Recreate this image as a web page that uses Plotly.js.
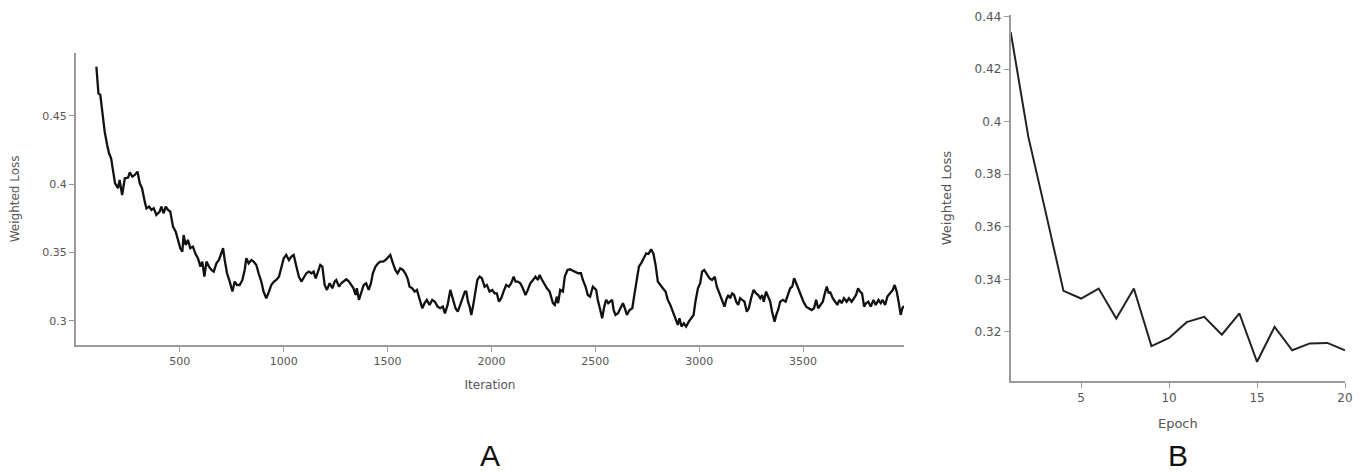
<!DOCTYPE html>
<html>
<head>
<meta charset="utf-8">
<script src="https://cdn.plot.ly/plotly-3.0.1.min.js"></script>
<style>html,body{margin:0;padding:0;background:#fff;}#chart{width:1363px;height:472px;}</style>
</head>
<body>
<div id="chart"></div>
<script>
// Panel A: weighted loss per iteration
const iterations = [98,108,117,127,138,150,159,169,178,188,198,202,210,222,235,251,259,271,283,296,307,318,331,339,352,363,374,387,403,411,422,432,443,454,467,480,491,502,512,518,528,539,550,563,576,587,599,608,618,
628,640,652,663,676,688,700,708,716,727,740,753,764,775,788,801,812,820,831,844,855,868,879,892,903,916,929,940,953,964,977,988,1000,1012,1025,1037,1048,1061,1073,1085,1096,1109,1121,1133,1144,1154,1165,1176,1186,1197,1208,1221,1234,1245,
1253,1266,1277,1288,1301,1314,1325,1336,1346,1352,1362,1373,1385,1397,1409,1420,1429,1442,1454,1465,1478,1490,1502,1513,1526,1537,1548,1561,1574,1585,1596,1606,1619,1630,1641,1654,1667,1678,1689,1702,1715,1728,1741,1753,1766,1776,1789,1802,1814,1827,1838,1850,1863,1872,
1879,1887,1895,1903,1911,1922,1932,1943,1954,1967,1978,1991,2004,2015,2026,2036,2047,2058,2071,2084,2095,2107,2116,2127,2139,2151,2164,2175,2187,2200,2212,2224,2232,2244,2256,2267,2280,2288,2296,2305,2315,2321,2331,2344,2353,2366,2379,2392,2405,2418,2431,2440,2453,2464,2475,2488,
2504,2512,2524,2533,2543,2552,2562,2572,2581,2588,2597,2609,2620,2633,2642,2652,2665,2678,2689,2700,2710,2721,2732,2745,2756,2769,2780,2790,2801,2812,2825,2838,2849,2861,2873,2886,2897,2905,2915,2926,2937,2950,2962,2973,2982,2994,3005,3014,3024,3037,3050,3062,3075,3085,3098,3111,3122,
3130,3140,3149,3159,3168,3178,3188,3197,3207,3218,3229,3239,3250,3262,3274,3284,3294,3303,3311,3322,3332,3342,3351,3363,3371,3380,3390,3403,3416,3427,3438,3448,3457,3467,3480,3491,3502,3515,3528,3541,3553,3563,3573,3582,3595,3605,3614,3624,
3630,3643,3654,3665,3675,3686,3697,3710,3721,3734,3745,3755,3765,3774,3784,3794,3803,3814,3826,3839,3850,3863,3874,3883,3895,3906,3919,3932,3941,3951,3960,3970,3978,3986];

const iterationLoss = [0.4861,0.4666,0.4654,0.4507,0.4385,0.4288,0.4227,0.419,0.4105,0.4007,0.3983,0.3971,0.4032,0.3922,0.4044,0.4049,0.4088,0.4056,0.4068,0.4093,0.4007,0.397,0.3873,0.3824,0.3837,0.3812,0.3824,0.3776,0.38,0.3837,0.3788,0.3837,0.3812,0.38,0.369,0.3654,0.3593,0.3532,0.3507,0.3629,0.3556,0.3593,0.3532,0.3544,0.3488,0.3459,0.3398,0.3434,0.3324,
0.3434,0.3398,0.3373,0.3361,0.3422,0.3446,0.3507,0.3532,0.3446,0.3349,0.3288,0.3215,0.3288,0.3263,0.3263,0.33,0.3373,0.3459,0.3422,0.3446,0.3434,0.341,0.3349,0.3288,0.3215,0.3166,0.3215,0.3263,0.3288,0.33,0.3324,0.3398,0.3459,0.3483,0.3446,0.3471,0.3483,0.3398,0.3324,0.3288,0.3312,0.3349,0.3361,0.3349,0.3361,0.3312,0.3361,0.341,0.3398,0.3263,0.3227,0.3276,0.3239,0.3288,
0.33,0.3251,0.3276,0.3288,0.3305,0.3288,0.3263,0.3239,0.319,0.3239,0.3154,0.3215,0.3263,0.3276,0.3227,0.3276,0.3349,0.3398,0.3422,0.3434,0.3434,0.3446,0.3466,0.3483,0.3422,0.3373,0.3349,0.3385,0.3373,0.3349,0.3312,0.3251,0.3239,0.3215,0.3227,0.3154,0.3093,0.313,0.3154,0.3117,0.3154,0.3141,0.3105,0.3093,0.3105,0.3056,0.3117,0.3227,0.3154,0.3093,0.3068,0.3117,0.3178,0.3215,
0.3215,0.3141,0.3105,0.3044,0.3105,0.3227,0.33,0.3324,0.3312,0.3251,0.3263,0.3215,0.3227,0.3202,0.3202,0.3141,0.3166,0.3215,0.3263,0.3251,0.3276,0.3324,0.3288,0.3288,0.3276,0.3239,0.319,0.3227,0.3276,0.33,0.3324,0.33,0.3337,0.33,0.3263,0.3239,0.3215,0.3178,0.313,0.3117,0.3178,0.313,0.3227,0.3215,0.3324,0.3373,0.3378,0.3368,0.3361,0.3349,0.3349,0.33,0.3251,0.319,0.3178,0.3251,
0.3227,0.3154,0.308,0.302,0.3105,0.3154,0.313,0.3141,0.3154,0.308,0.3044,0.3056,0.3093,0.313,0.3093,0.3044,0.308,0.3093,0.3202,0.3324,0.3398,0.3422,0.3459,0.3495,0.349,0.3524,0.349,0.341,0.3288,0.3263,0.3239,0.3215,0.3154,0.3117,0.3068,0.3007,0.2971,0.302,0.2959,0.2983,0.2959,0.2995,0.302,0.3044,0.3141,0.3239,0.3276,0.3361,0.3373,0.3337,0.3312,0.33,0.3324,0.3251,0.3202,0.3141,0.3105,
0.3154,0.319,0.3166,0.3202,0.319,0.3141,0.3117,0.3166,0.3154,0.3141,0.3068,0.3093,0.3166,0.3227,0.3202,0.319,0.3166,0.319,0.3141,0.3215,0.3178,0.3141,0.3068,0.2995,0.3044,0.308,0.3141,0.3154,0.3141,0.319,0.3239,0.3251,0.3312,0.3276,0.3227,0.3178,0.3141,0.3105,0.3093,0.308,0.3093,0.3154,0.3093,0.3117,0.3141,0.3202,0.3251,0.3202,
0.3215,0.3166,0.3141,0.3117,0.3154,0.313,0.3166,0.3141,0.3166,0.3141,0.3166,0.319,0.3239,0.3215,0.3202,0.3105,0.313,0.3141,0.3105,0.3154,0.3117,0.3154,0.313,0.3154,0.3117,0.3178,0.3202,0.3227,0.3263,0.3215,0.3141,0.3044,0.3093,0.311];

// Panel B: weighted loss per epoch
const epochs = [1,2,3,4,5,6,7,8,9,10,11,12,13,14,15,16,17,18,19,20];
const epochLoss = [0.4341,0.3943,0.3652,0.3356,0.3327,0.3365,0.3251,0.3365,0.3146,0.3177,0.3237,0.3257,0.3189,0.3270,0.3086,0.3219,0.3130,0.3156,0.3158,0.3130];

const iterTicks = [500,1000,1500,2000,2500,3000,3500];
const epochTicks = [5,10,15,20];
const panelLabels = ['A','B'];

const W = 1363, H = 472;
const px = v => v / W, py = v => 1 - v / H;

const traces = [
  {x: iterations, y: iterationLoss, type: 'scatter', mode: 'lines', xaxis: 'x', yaxis: 'y',
   line: {color: '#111', width: 2.3}, showlegend: false, hoverinfo: 'x+y'},
  {x: epochs, y: epochLoss, type: 'scatter', mode: 'lines', xaxis: 'x2', yaxis: 'y2',
   line: {color: '#222', width: 2}, showlegend: false, hoverinfo: 'x+y'}
];

const axisCommon = {showgrid: false, zeroline: false, showline: true, linecolor: '#9a9a9a', linewidth: 2,
  ticks: 'outside', ticklen: 5, tickcolor: '#9a9a9a', tickwidth: 1, automargin: false};

const layout = {
  width: W, height: H,
  margin: {l: 0, r: 0, t: 0, b: 0},
  paper_bgcolor: '#fff', plot_bgcolor: '#fff',
  font: {family: 'DejaVu Sans, Verdana, sans-serif', color: '#555'},
  xaxis: Object.assign({}, axisCommon, {
    domain: [px(76), px(904)], anchor: 'y', range: [0, 3986],
    tickvals: iterTicks, tickfont: {size: 11, color: '#555'},
    title: {text: 'Iteration', font: {size: 12, color: '#555'}, standoff: 13}
  }),
  yaxis: Object.assign({}, axisCommon, {
    domain: [py(345), py(52.7)], anchor: 'x', range: [0.2824, 0.4963],
    tickvals: [0.3, 0.35, 0.4, 0.45], ticktext: ['0.3','0.35','0.4','0.45'],
    tickfont: {size: 11, color: '#555'},
    title: {text: 'Weighted Loss', font: {size: 12, color: '#555'}, standoff: 20}
  }),
  xaxis2: Object.assign({}, axisCommon, {
    domain: [px(1010.7), px(1345)], anchor: 'y2', range: [1, 20],
    tickvals: epochTicks, tickfont: {size: 12, color: '#555'},
    title: {text: 'Epoch', font: {size: 13, color: '#555'}, standoff: 14}
  }),
  yaxis2: Object.assign({}, axisCommon, {
    domain: [py(381), py(15.3)], anchor: 'x2', range: [0.3013, 0.4405],
    tickvals: [0.32,0.34,0.36,0.38,0.4,0.42,0.44], ticktext: ['0.32','0.34','0.36','0.38','0.4','0.42','0.44'],
    tickfont: {size: 12, color: '#555'},
    title: {text: 'Weighted Loss', font: {size: 13, color: '#555'}, standoff: 20}
  }),
  annotations: [
    {text: panelLabels[0], xref: 'paper', yref: 'paper', x: px(490), y: py(455), xanchor: 'center', yanchor: 'middle',
     showarrow: false, font: {family: 'Liberation Sans, Arial, sans-serif', size: 30, color: '#111'}},
    {text: panelLabels[1], xref: 'paper', yref: 'paper', x: px(1178), y: py(455), xanchor: 'center', yanchor: 'middle',
     showarrow: false, font: {family: 'Liberation Sans, Arial, sans-serif', size: 30, color: '#111'}}
  ]
};

Plotly.newPlot('chart', traces, layout, {displayModeBar: false, staticPlot: true});
</script>
</body>
</html>
